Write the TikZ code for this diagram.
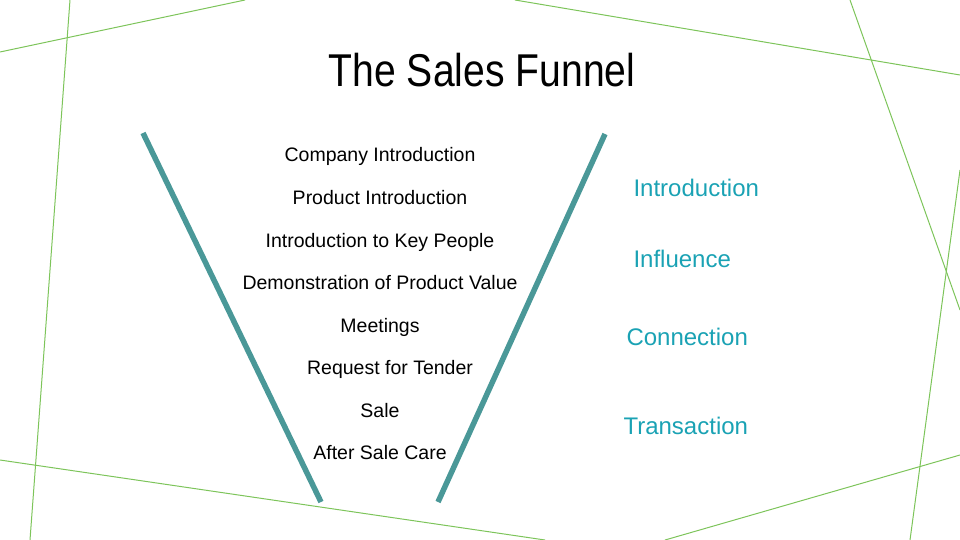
\documentclass[tikz,border=0pt]{standalone}
\usepackage{fontspec}
\setmainfont{Liberation Sans}
\definecolor{deco}{HTML}{7DC45A}
\definecolor{funnel}{HTML}{4A9898}
\definecolor{stage}{HTML}{1AA2B4}
\begin{document}
\begin{tikzpicture}[x=1pt,y=-1pt]
  \tikzset{decoline/.style = {draw=deco, line width=1pt}}
  \tikzset{wall/.style = {draw=funnel, line width=5.5pt}}
  \tikzset{salestep/.style = {font=\fontsize{19.5}{22}\selectfont, text height=13pt, text depth=4pt}}
  \tikzset{stagelabel/.style = {anchor=west, text=stage, font=\fontsize{24}{27}\selectfont, text height=16pt, text depth=5pt}}
  \useasboundingbox (0,0) rectangle (960,540);
  % background lines
  \coordinate (a1) at (0,52);   \coordinate (a2) at (245,0);
  \coordinate (b1) at (70,0);   \coordinate (b2) at (30,540);
  \coordinate (c1) at (515,0);  \coordinate (c2) at (960,75);
  \coordinate (d1) at (850,0);  \coordinate (d2) at (960,310);
  \coordinate (e1) at (960,170); \coordinate (e2) at (910,540);
  \coordinate (f1) at (0,460);  \coordinate (f2) at (545,540);
  \coordinate (g1) at (665,540); \coordinate (g2) at (960,455);
  \foreach \l in {a,b,c,d,e,f,g} \draw[decoline] (\l1) -- (\l2);
  % title
  \node[font=\fontsize{46}{50}\selectfont\addfontfeatures{FakeStretch=0.85}] (title) at (482,70) {The Sales Funnel};
  % funnel
  \coordinate (lt) at (143,133); \coordinate (lb) at (321,502);
  \coordinate (rt) at (605,134); \coordinate (rb) at (438,502);
  \draw[wall] (lt) -- (lb);
  \draw[wall] (rt) -- (rb);
  % steps
  \node[salestep] (s1) at (380,157) {Company Introduction};
  \node[salestep] (s2) at (380,200) {Product Introduction};
  \node[salestep] (s3) at (380,243) {Introduction to Key People};
  \node[salestep] (s4) at (380,285) {Demonstration of Product Value};
  \node[salestep] (s5) at (380,328) {Meetings};
  \node[salestep] (s6) at (390,370) {Request for Tender};
  \node[salestep] (s7) at (380,413) {Sale};
  \node[salestep] (s8) at (380,455) {After Sale Care};
  % stages
  \node[stagelabel] (introduction) at (630,191) {Introduction};
  \node[stagelabel] (influence) at (630,262) {Influence};
  \node[stagelabel] (connection) at (623,340) {Connection};
  \node[stagelabel] (transaction) at (620,429) {Transaction};
\end{tikzpicture}
\end{document}
